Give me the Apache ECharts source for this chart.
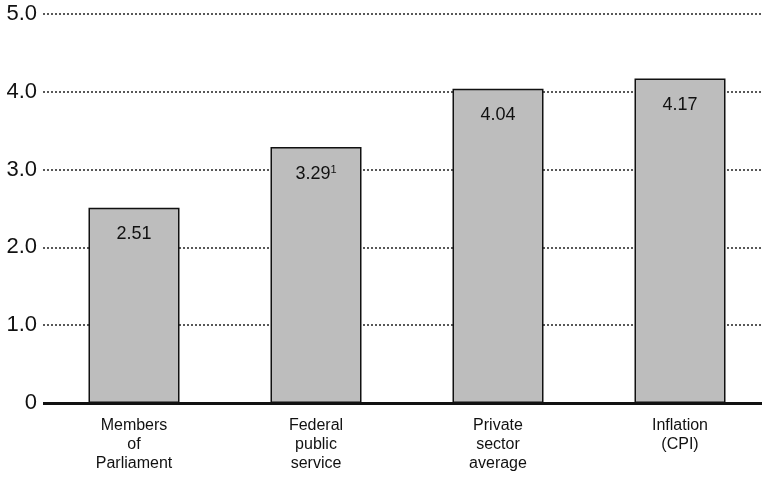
<!DOCTYPE html>
<html>
<head>
<meta charset="utf-8">
<script src="https://cdn.jsdelivr.net/npm/echarts@6/dist/echarts.min.js"></script>
<style>html,body{margin:0;padding:0;background:#fff;overflow:hidden}#c{width:771px;height:477px}</style>
</head>
<body>
<div id="c"></div>
<script>
const categories = ["Members\nof\nParliament", "Federal\npublic\nservice", "Private\nsector\naverage", "Inflation\n(CPI)"];
const values = [2.51, 3.29, 4.04, 4.17];
const valueLabels = ["2.51", "3.29{sup|1}", "4.04", "4.17"];
const yTickLabels = {0: "0", 1: "1.0", 2: "2.0", 3: "3.0", 4: "4.0", 5: "5.0"};

const chart = echarts.init(document.getElementById('c'), null, {renderer: 'canvas'});
const font = 'Liberation Sans, Arial, Helvetica, sans-serif';
chart.setOption({
  animation: false,
  grid: {left: 43, right: 0, top: 14, bottom: 74},
  xAxis: {
    type: 'category',
    data: categories,
    axisTick: {show: false},
    axisLine: {show: false},
    axisLabel: {color: '#111', fontFamily: font, fontSize: 16, lineHeight: 19, margin: 13}
  },
  yAxis: {
    type: 'value',
    min: 0, max: 5, interval: 1,
    axisLine: {show: false},
    axisTick: {show: false},
    axisLabel: {
      color: '#111', fontFamily: font, fontSize: 22, margin: 6,
      formatter: v => yTickLabels[v]
    },
    splitLine: {lineStyle: {color: '#222', type: [2, 2], width: 1.5}}
  },
  series: [{
    type: 'bar',
    data: values,
    barWidth: 91,
    itemStyle: {color: '#bdbdbd', borderColor: '#111', borderWidth: 1.5},
    label: {
      show: true,
      position: 'insideTop',
      distance: 17,
      color: '#111',
      fontFamily: font,
      fontSize: 18,
      formatter: p => valueLabels[p.dataIndex],
      rich: {sup: {fontSize: 11, verticalAlign: 'top', padding: [0, 0, 8, 0], color: '#111', fontFamily: font}}
    },
    markLine: {
      silent: true,
      symbol: 'none',
      label: {show: false},
      lineStyle: {color: '#111', type: 'solid', width: 3},
      data: [{yAxis: 0}]
    }
  }]
});
</script>
</body>
</html>
